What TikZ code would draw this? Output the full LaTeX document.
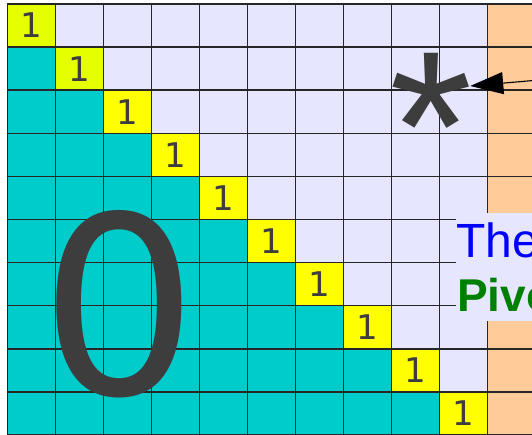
\documentclass[tikz,border=0pt]{standalone}
\usepackage{fontspec}
\setmainfont{DejaVu Sans}
\newfontfamily\labelfont{Liberation Sans}
\usetikzlibrary{arrows.meta}

\definecolor{diagyellow}{HTML}{FFFF00}
\definecolor{firstyellow}{HTML}{E6FF00}
\definecolor{lowcyan}{HTML}{00CCCC}
\definecolor{uplavender}{HTML}{E6E6FF}
\definecolor{rhsorange}{HTML}{FFCC99}
\definecolor{digitgray}{HTML}{3D3D3D}
\definecolor{pivotgreen}{HTML}{008000}

\tikzset{
	gridline/.style={line width=1.4pt, color=black!85},
	onecell/.style={anchor=base, inner sep=0, text=digitgray, font=\fontsize{34}{34}\selectfont},
	bigglyph/.style={anchor=base, inner sep=0, text=digitgray},
	pivotarrow/.style={-{Triangle[length=33pt, width=22pt]}, line width=1.1pt},
}

\begin{document}
\begin{tikzpicture}[x=1pt, y=-1pt]
	\useasboundingbox (0,0) rectangle (532,435);
	\clip (0,0) rectangle (532,435);
	% upper part and right hand side column
	\fill[uplavender] (7.3,4) rectangle (487.3,440);
	\fill[rhsorange] (487.3,4) rectangle (545,440);
	% zeros below the diagonal
	\foreach \r in {1,...,9}
		\fill[lowcyan] (7.3,4+43.1*\r) rectangle (7.3+48*\r,4+43.1*\r+43.1);
	% ones on the diagonal
	\foreach \d/\col in {0/firstyellow,1/firstyellow,2/diagyellow,3/diagyellow,4/diagyellow,
			5/diagyellow,6/diagyellow,7/diagyellow,8/diagyellow,9/diagyellow} {
		\fill[\col] (7.3+48*\d,4+43.1*\d) rectangle (7.3+48*\d+48,4+43.1*\d+43.1);
		\node[onecell] (one\d) at (7.3+48*\d+24,4+43.1*\d+21.55+12.4) {1};
	}
	% grid
	\foreach \k in {0,...,10}
		\draw[gridline] (7.3+48*\k,4) -- (7.3+48*\k,440);
	\foreach \k in {0,...,10}
		\draw[gridline] (7.3,4+43.1*\k) -- (545,4+43.1*\k);
	% big zero and star
	\node[bigglyph, font=\fontsize{248}{248}\selectfont] (zero) at (119,394) {0};
	\node[bigglyph, font=\labelfont\fontsize{214}{214}\selectfont] (star) at (431,201) {*};
	% label box
	\fill[uplavender] (456,213) rectangle (545,321);
	\node[anchor=base west, inner sep=0, text=blue, font=\labelfont\fontsize{48}{48}\selectfont] (the) at (456,258) {The};
	\node[anchor=base west, inner sep=0, text=pivotgreen, font=\labelfont\bfseries\fontsize{46}{46}\selectfont] (pivo) at (457,311) {Pivo};
	\coordinate (arrowsrc) at (545,79.5);
	\draw[pivotarrow] (arrowsrc) -- ([xshift=-2.6pt, yshift=41.4pt]star.east);
\end{tikzpicture}
\end{document}
